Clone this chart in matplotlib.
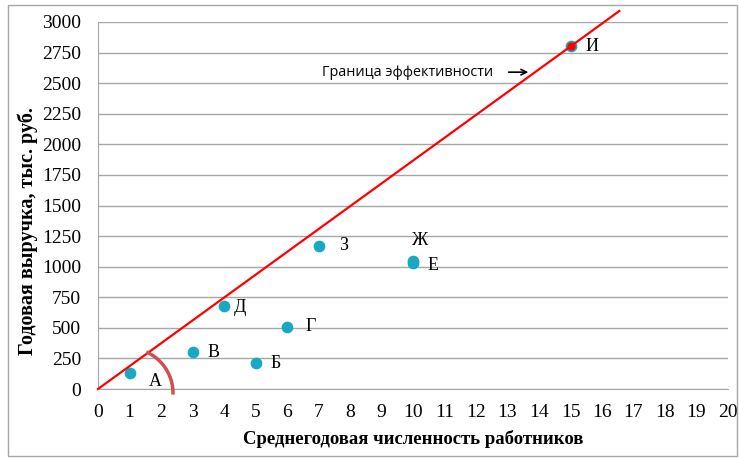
import numpy as np
import matplotlib
matplotlib.use('Agg')
import matplotlib.pyplot as plt
from matplotlib.patches import Rectangle


# Точки: предприятия (среднегодовая численность, годовая выручка)
names = ['А', 'Б', 'В', 'Г', 'Д', 'Е', 'Ж', 'З', 'И']
workers = [1, 5, 3, 6, 4, 10, 10, 7, 15]
revenue = [130, 210, 300, 510, 680, 1030, 1050, 1170, 2800]

# Граница эффективности (луч из начала координат через И)
frontier_x = [0, 15, 16.55]
frontier_y = [0, 2800, 3090]

x_ticks = list(range(0, 21))
y_ticks = list(range(0, 3001, 250))

# смещения подписей в пикселях
label_offsets = [(26, -8), (20, 0), (21, 0), (24, 0), (16, -2), (20, -3), (7, 20), (25, 0), (22, 0)]

fig = plt.figure(figsize=(7.39, 4.59), dpi=100)
ax = fig.add_axes([98 / 739, 70 / 459, 630 / 739, 367 / 459])

ax.set_xlim(0, 20)
ax.set_ylim(0, 3000)
ax.set_xticks(x_ticks)
ax.set_yticks(y_ticks)
ax.yaxis.grid(True, color='#a6a6a6', lw=1)
ax.set_axisbelow(True)
for s in ['top', 'right']:
    ax.spines[s].set_visible(False)
for s in ['left', 'bottom']:
    ax.spines[s].set_color('#a6a6a6')
ax.tick_params(axis='x', length=0, labelsize=14, pad=11)
ax.tick_params(axis='y', length=0, labelsize=14, pad=12)
for lab in ax.get_xticklabels() + ax.get_yticklabels():
    lab.set_family('Liberation Serif')

ax.scatter(workers, revenue, s=55, color='#17a8c4', zorder=3, clip_on=False)
ax.plot(frontier_x, frontier_y, color='#ff0000', lw=1.6, zorder=4, clip_on=False)
ax.plot([workers[-1]], [revenue[-1]], 'o', color='#ff0000', ms=5, zorder=5)

for n, x, y, off in zip(names, workers, revenue, label_offsets):
    ax.annotate(n, (x, y), xytext=off, textcoords='offset pixels',
                ha='center', va='center', fontsize=13, family='Liberation Serif')

# дуга угла у начала координат
t = np.radians(np.linspace(-2, 66, 60))
ax.plot(0.95 + 1.43 * np.cos(t), -33 + 368 * np.sin(t), color='#d0504d',
        lw=2.5, zorder=4, clip_on=False, solid_capstyle='butt')

ax.text(7.11, 2590, 'Граница эффективности', fontsize=10.4, family='Open Sans',
        ha='left', va='center')
ax.annotate('', xy=(13.75, 2590), xytext=(12.95, 2590),
            arrowprops=dict(arrowstyle='->', color='black', lw=1.2))

ax.set_xlabel('Среднегодовая численность работников', fontsize=13.5,
              family='Liberation Serif', fontweight='bold', labelpad=6)
ax.set_ylabel('Годовая выручка, тыс. руб.', fontsize=14.5,
              family='Liberation Serif', fontweight='bold')
ax.yaxis.set_label_coords(-0.095, 0.43)

fig.patches.append(Rectangle((8 / 739, 3 / 459), 729 / 739, 451 / 459,
                             transform=fig.transFigure, fill=False,
                             edgecolor='#a6a6a6', lw=1))

fig.savefig('out.png', dpi=100)
